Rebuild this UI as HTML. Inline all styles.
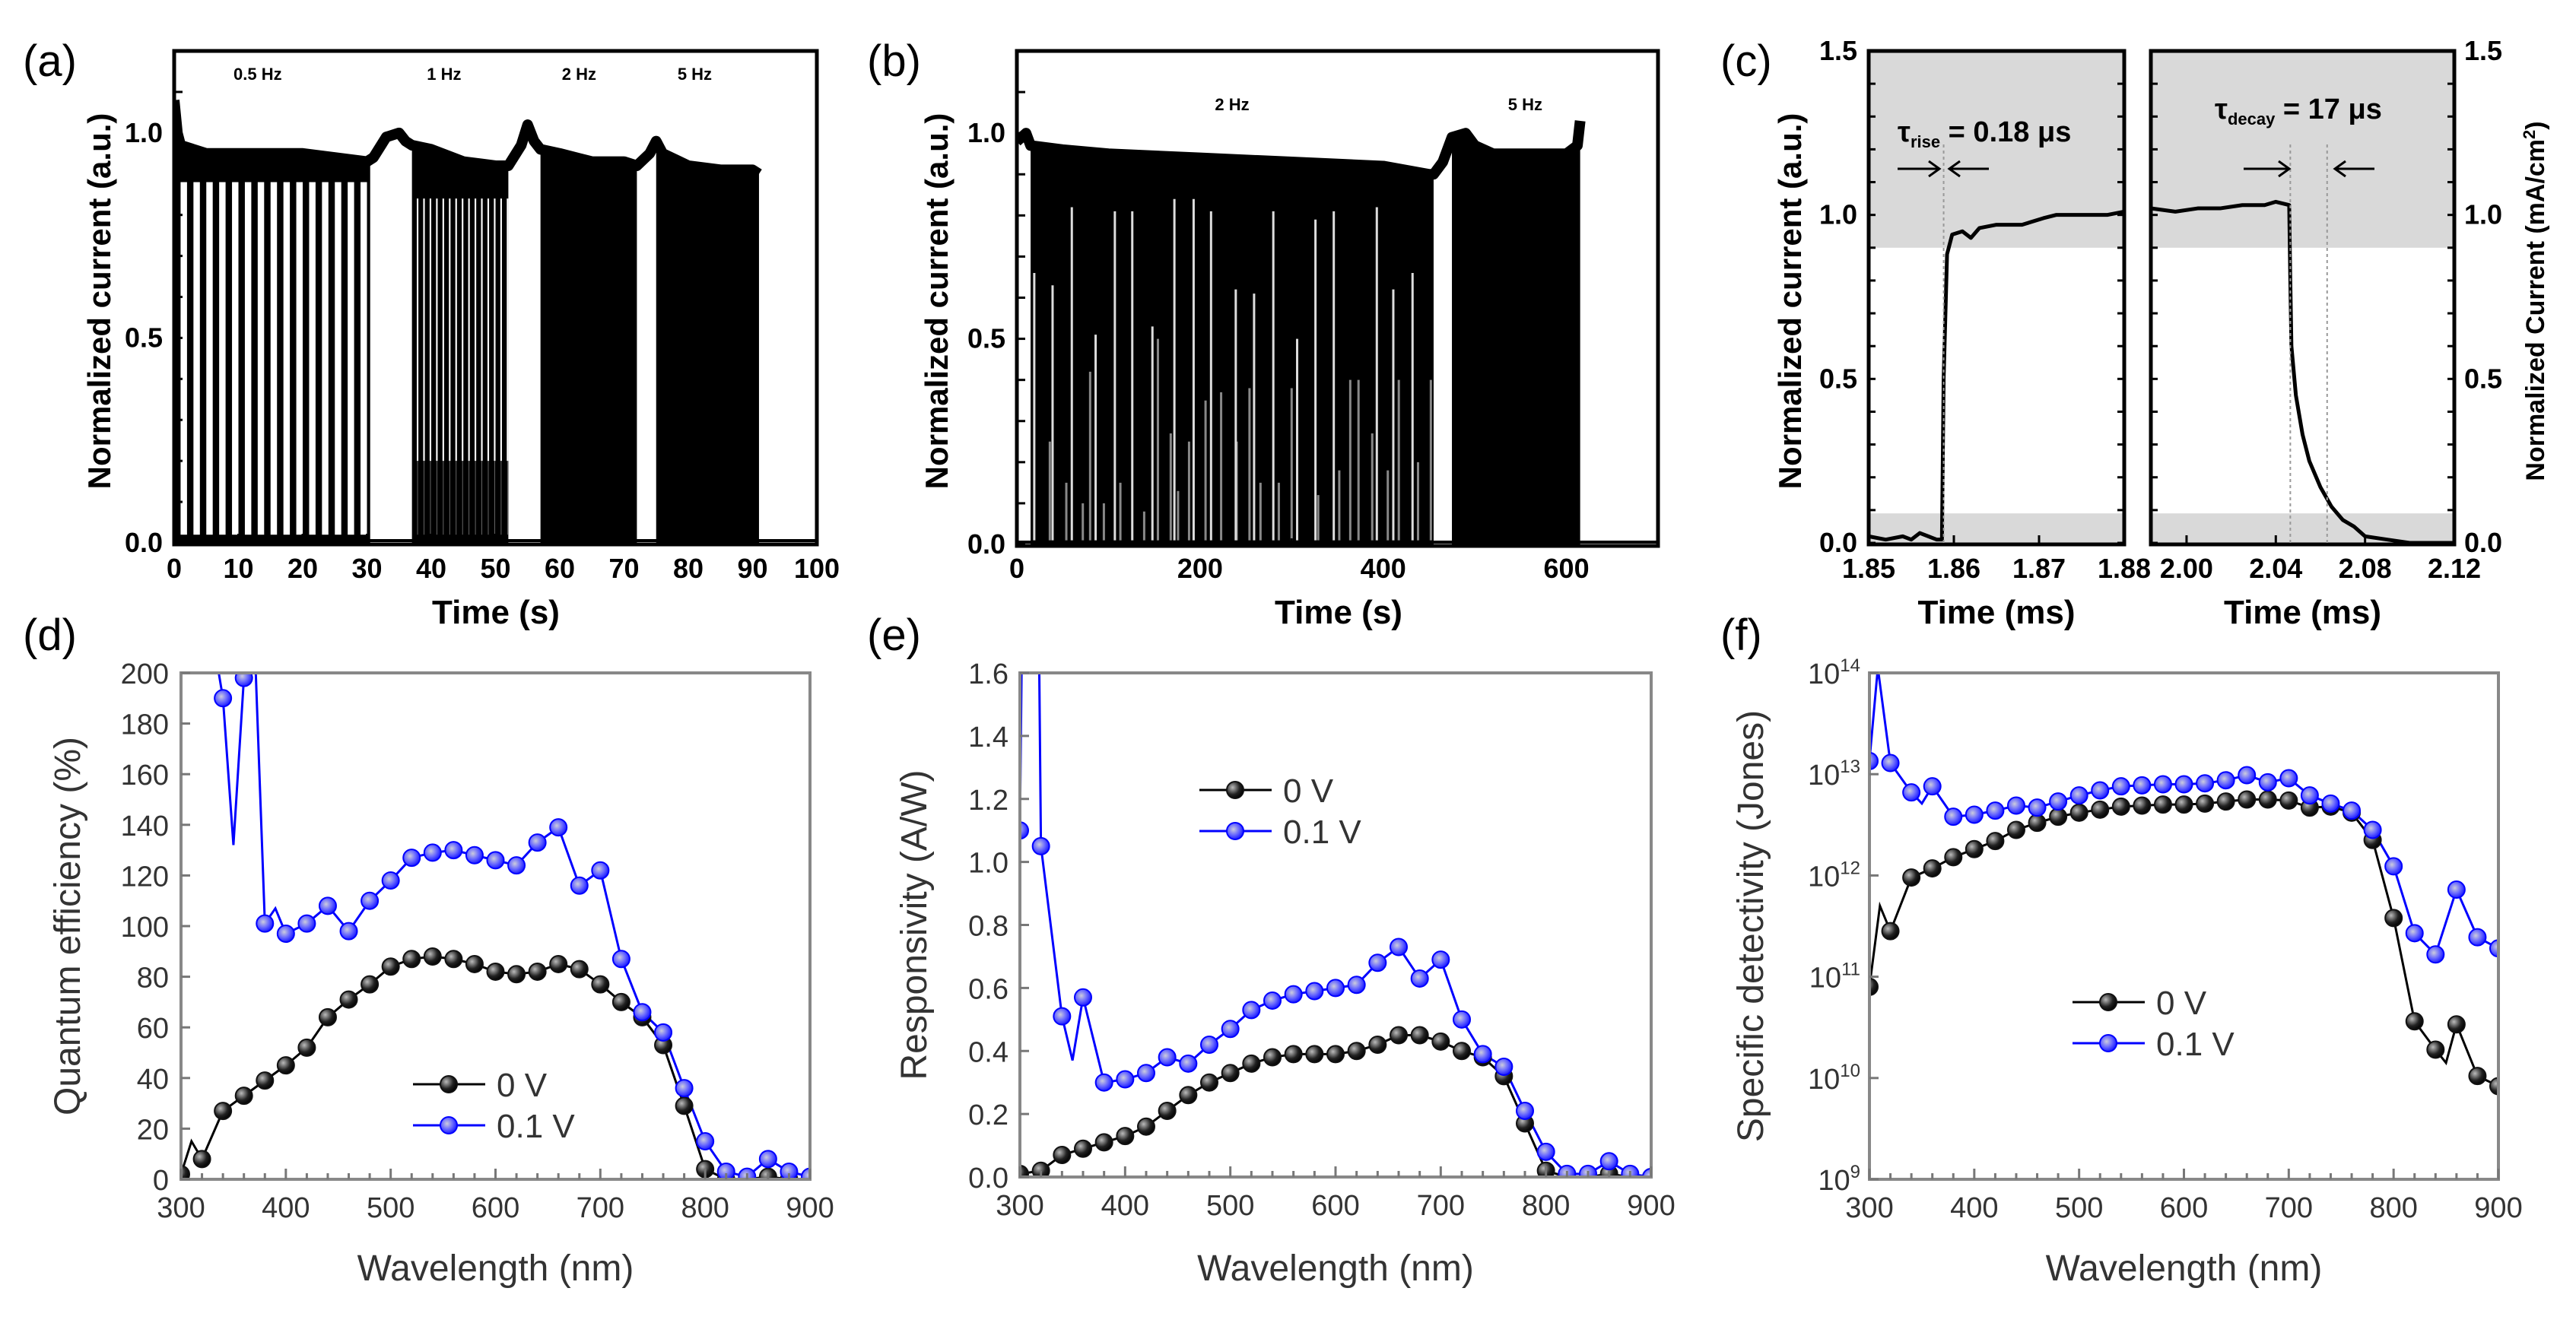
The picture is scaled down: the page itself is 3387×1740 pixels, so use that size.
<!DOCTYPE html>
<html><head><meta charset="utf-8"><style>
html,body{margin:0;padding:0;background:#fff;}
svg{display:block;}
.b{font-family:"Liberation Sans Narrow","Liberation Sans",sans-serif;font-weight:bold;}
.r{font-family:"Liberation Sans",sans-serif;}
</style></head><body>
<svg id="chart" width="3387" height="1740" viewBox="0 0 3387 1740" xmlns="http://www.w3.org/2000/svg">
<defs>
<radialGradient id="gBlack" cx="0.35" cy="0.35" r="0.7"><stop offset="0" stop-color="#bbb"/><stop offset="0.6" stop-color="#222"/><stop offset="1" stop-color="#000"/></radialGradient>
<radialGradient id="gBlue" cx="0.4" cy="0.4" r="0.7"><stop offset="0" stop-color="#ccd"/><stop offset="0.5" stop-color="#66f"/><stop offset="1" stop-color="#00f"/></radialGradient>
</defs>
</svg>
<script>
// ---------- DATA ----------
// (a)
const aSegStart=[0,37,57,75];
const aSegEnd=[30.5,52,72,91];
const aSegFreq=[0.5,1,2,5];
const aGapFrac=[0.5,0.25,0,0];
const aGapBottom=[0.02,0.2,0,0];
const aGapTop=[0.88,0.84,0,0];
const aTopT=[0,0.5,1,5,10,15,20,25,30,31,33,35,36,37,40,45,50,52,54,55,56,57,60,65,70,72,74,75,76,80,85,90,91];
const aTopV=[1.08,1.0,0.97,0.95,0.95,0.95,0.95,0.94,0.93,0.94,0.99,1.0,0.98,0.97,0.96,0.93,0.92,0.92,0.97,1.02,0.98,0.96,0.95,0.93,0.93,0.92,0.95,0.98,0.95,0.92,0.91,0.91,0.9];
const aLabels=["0.5 Hz","1 Hz","2 Hz","5 Hz"];
const aLabelT=[13,42,63,81];
// (b)
const bSegStart=[15,475];
const bSegEnd=[455,615];
const bTopT=[0,10,15,50,100,200,300,400,450,455,465,475,490,500,520,600,612,615];
const bTopV=[0.98,1.0,0.97,0.96,0.95,0.94,0.93,0.92,0.9,0.9,0.93,0.99,1.0,0.97,0.95,0.95,0.97,1.03];
const bWhiteT=[60,107,126,172,193,212,280,326,346,393,39,86,148,239,259,306,411,432,19];
const bWhiteV=[0.82,0.81,0.81,0.84,0.84,0.81,0.81,0.79,0.81,0.82,0.63,0.51,0.53,0.62,0.61,0.5,0.62,0.66,0.66];
const bGrayT=[36,54,72,80,95,113,139,154,168,176,188,206,223,240,254,266,286,300,329,352,364,373,388,405,417,438,452];
const bGrayV=[0.25,0.15,0.1,0.42,0.1,0.15,0.08,0.5,0.27,0.13,0.25,0.35,0.37,0.25,0.38,0.15,0.15,0.38,0.12,0.18,0.4,0.4,0.27,0.18,0.4,0.2,0.4];
const bLabels=["2 Hz","5 Hz"];
const bLabelT=[235,555];
// (c)
const cRiseT=[1.85,1.852,1.854,1.855,1.856,1.857,1.858,1.8586,1.8588,1.8592,1.8598,1.861,1.862,1.863,1.865,1.868,1.8705,1.872,1.875,1.878,1.88];
const cRiseV=[0.02,0.01,0.02,0.01,0.03,0.02,0.01,0.01,0.5,0.88,0.94,0.95,0.93,0.96,0.97,0.97,0.99,1.0,1.0,1.0,1.01];
const cDecayT=[1.984,1.995,2.005,2.015,2.025,2.035,2.04,2.046,2.0465,2.047,2.049,2.052,2.055,2.06,2.065,2.07,2.075,2.08,2.09,2.1,2.12];
const cDecayV=[1.02,1.01,1.02,1.02,1.03,1.03,1.04,1.03,0.8,0.6,0.45,0.33,0.25,0.17,0.11,0.07,0.05,0.02,0.01,0.0,0.0];
// (d)
const dWl0=[300,310,320,340,360,380,400,420,440,460,480,500,520,540,560,580,600,620,640,660,680,700,720,740,760,780,800,820,840,860,880,900];
const dQE0=[2,15,8,27,33,39,45,52,64,71,77,84,87,88,87,85,82,81,82,85,83,77,70,64,53,29,4,0,0,1,0,0];
const dWl1=[330,340,350,360,370,380,390,400,420,440,460,480,500,520,540,560,580,600,620,640,660,680,700,720,740,760,780,800,820,840,860,880,900];
const dQE1=[215,190,132,198,215,101,107,97,101,108,98,110,118,127,129,130,128,126,124,133,139,116,122,87,66,58,36,15,3,1,8,3,1];
// (e)
const eWl0=[300,320,340,360,380,400,420,440,460,480,500,520,540,560,580,600,620,640,660,680,700,720,740,760,780,800,820,840,860,880,900];
const eR0=[0.01,0.02,0.07,0.09,0.11,0.13,0.16,0.21,0.26,0.30,0.33,0.36,0.38,0.39,0.39,0.39,0.40,0.42,0.45,0.45,0.43,0.40,0.38,0.32,0.17,0.02,0,0,0.01,0,0];
const eWl1=[300,302,318,320,340,350,360,380,400,420,440,460,480,500,520,540,560,580,600,620,640,660,680,700,720,740,760,780,800,820,840,860,880,900];
const eR1=[1.1,1.75,1.75,1.05,0.51,0.37,0.57,0.30,0.31,0.33,0.38,0.36,0.42,0.47,0.53,0.56,0.58,0.59,0.60,0.61,0.68,0.73,0.63,0.69,0.50,0.39,0.35,0.21,0.08,0.01,0.01,0.05,0.01,0];
// (f) log10 of detectivity
const fWl0=[300,310,320,340,360,380,400,420,440,460,480,500,520,540,560,580,600,620,640,660,680,700,720,740,760,780,800,820,840,850,860,880,900];
const fD0=[10.9,11.7,11.45,11.98,12.07,12.18,12.26,12.34,12.45,12.52,12.58,12.62,12.65,12.68,12.69,12.70,12.70,12.71,12.73,12.75,12.75,12.74,12.67,12.68,12.62,12.35,11.58,10.56,10.28,10.15,10.53,10.02,9.92];
const fWl1=[300,308,320,340,350,360,380,400,420,440,460,480,500,520,540,560,580,600,620,640,660,680,700,720,740,760,780,800,820,840,860,880,900];
const fD1=[13.13,14.05,13.11,12.82,12.71,12.88,12.58,12.60,12.64,12.69,12.67,12.73,12.79,12.84,12.88,12.89,12.90,12.90,12.91,12.94,12.99,12.92,12.96,12.79,12.71,12.64,12.45,12.09,11.43,11.22,11.86,11.39,11.28];
const wlTicks=[300,400,500,600,700,800,900];
const dTicks=[0,20,40,60,80,100,120,140,160,180,200];
const eTicks=[0.0,0.2,0.4,0.6,0.8,1.0,1.2,1.4,1.6];
const fTicks=[9,10,11,12,13,14];

// ---------- HELPERS ----------
const NS="http://www.w3.org/2000/svg";
const svg=document.getElementById('chart');
function mk(tag,attrs,parent){const e=document.createElementNS(NS,tag);for(const k in attrs)e.setAttribute(k,attrs[k]);(parent||svg).appendChild(e);return e;}
function lin(d0,d1,p0,p1){return v=>p0+(v-d0)/(d1-d0)*(p1-p0);}
function interp(T,V,t){if(t<=T[0])return V[0];for(let i=1;i<T.length;i++){if(t<=T[i]){const f=(t-T[i-1])/(T[i]-T[i-1]);return V[i-1]+f*(V[i]-V[i-1]);}}return V[V.length-1];}
function envPoly(T,V,s,e,X,Y){const pts=[X(s)+','+Y(0),X(s)+','+Y(interp(T,V,s))];T.forEach((t,i)=>{if(t>s&&t<e)pts.push(X(t)+','+Y(V[i]));});pts.push(X(e)+','+Y(interp(T,V,e)));pts.push(X(e)+','+Y(0));return pts.join(' ');}
function text(str,x,y,cls,size,anchor,parent,fill){const t=mk('text',{x:x,y:y,class:cls,'font-size':size,'text-anchor':anchor||'middle',fill:fill||'#000'},parent);t.textContent=str;return t;}
let clipId=0;
function clip(x0,y0,x1,y1){const id='c'+(clipId++);const cp=mk('clipPath',{id:id});mk('rect',{x:x0,y:y0,width:x1-x0,height:y1-y0},cp);return 'url(#'+id+')';}
function frame(x0,y0,x1,y1,color,w,name){const r=mk('rect',{x:x0,y:y0,width:x1-x0,height:y1-y0,fill:'none',stroke:color,'stroke-width':w});

}

// ---------- PANEL A ----------
(function(){
const X=lin(0,100,229,1074),Y=lin(0,1.2,714,67);
const g=mk('g',{'clip-path':clip(229,67,1074,716)});


for(let i=0;i<aSegStart.length;i++){
  const r=mk('polygon',{points:envPoly(aTopT,aTopV,aSegStart[i],aSegEnd[i],X,Y),fill:'#000'},g);
  
  
  if(aGapFrac[i]>0){const p=1/aSegFreq[i];
    for(let t=aSegStart[i];t+p<=aSegEnd[i]+0.01;t+=p){
      const gx=X(t+p*(1-aGapFrac[i])),gw=X(t+p)-gx;
      const w=mk('rect',{x:gx,y:Y(aGapTop[i]),width:gw,height:Y(aGapBottom[i])-Y(aGapTop[i]),fill:'#fff'},g);
      
      
      if(aGapBottom[i]>0.05){const gg=mk('rect',{x:gx+gw*0.3,y:Y(aGapBottom[i]),width:gw*0.4,height:Y(0.02)-Y(aGapBottom[i]),fill:'#777'},g);
        
        }
    }}
}
const pl=mk('polyline',{points:aTopT.map((t,i)=>X(t)+','+Y(aTopV[i])).join(' '),fill:'none',stroke:'#000','stroke-width':14,'stroke-linejoin':'round'},g);


const bl=mk('line',{x1:X(0),x2:X(100),y1:Y(0)-3,y2:Y(0)-3,stroke:'#000','stroke-width':4},g);


frame(229,67,1074,716,'#000',5,'panel-a-frame');
for(let v=0;v<=100;v+=10){const l=mk('line',{x1:X(v),x2:X(v),y1:716,y2:702,stroke:'#000','stroke-width':3});
  
  
  const t=text(String(v),X(v),760,'b',36);
  
  }
[0,0.5,1.0].forEach(v=>{const t=text(v.toFixed(1),214,Y(v)+12,'b',36,'end');
  
  });
for(let v=0;v<=1.2;v+=0.1){const l=mk('line',{x1:229,x2:240,y1:Y(v),y2:Y(v),stroke:'#000','stroke-width':3});
  
  }
aLabels.forEach((s,i)=>{const t=text(s,X(aLabelT[i]),105,'b',22);
  
  });
const xt=text('Time (s)',652,820,'b',44);


const yt=text('Normalized current (a.u.)',0,0,'b',42);
yt.setAttribute('transform','translate(145,396) rotate(-90)');


})();

// ---------- PANEL B ----------
(function(){
const X=lin(0,700,1337,2180),Y=lin(0,1.2,716,67);
const g=mk('g',{'clip-path':clip(1337,67,2180,718)});


for(let i=0;i<bSegStart.length;i++){
  const r=mk('polygon',{points:envPoly(bTopT,bTopV,bSegStart[i],bSegEnd[i],X,Y),fill:'#000'},g);
  
  }
bGrayT.forEach((t,i)=>{const l=mk('line',{x1:X(t),x2:X(t),y1:Y(0.01),y2:Y(bGrayV[i]),stroke:'#888','stroke-width':3},g);
  
  });
bWhiteT.forEach((t,i)=>{const l=mk('line',{x1:X(t),x2:X(t),y1:Y(0.01),y2:Y(bWhiteV[i]),stroke:'#ddd','stroke-width':3},g);
  
  });
const pl=mk('polyline',{points:bTopT.map((t,i)=>X(t)+','+Y(bTopV[i])).join(' '),fill:'none',stroke:'#000','stroke-width':14,'stroke-linejoin':'round'},g);


const bl=mk('line',{x1:X(0),x2:X(700),y1:Y(0)-3,y2:Y(0)-3,stroke:'#000','stroke-width':4},g);


frame(1337,67,2180,718,'#000',5,'panel-b-frame');
for(let v=0;v<=700;v+=100){const l=mk('line',{x1:X(v),x2:X(v),y1:718,y2:v%200==0?702:708,stroke:'#000','stroke-width':3});
  
  
  if(v%200==0&&v<=600){const t=text(String(v),X(v),760,'b',36);
  
  }}
[0,0.5,1.0].forEach(v=>{const t=text(v.toFixed(1),1322,Y(v)+12,'b',36,'end');
  
  });
for(let v=0;v<=1.2;v+=0.1){const l=mk('line',{x1:1337,x2:1348,y1:Y(v),y2:Y(v),stroke:'#000','stroke-width':3});
  
  }
bLabels.forEach((s,i)=>{const t=text(s,X(bLabelT[i]),145,'b',22);
  
  });
const xt=text('Time (s)',1760,820,'b',44);


const yt=text('Normalized current (a.u.)',0,0,'b',42);
yt.setAttribute('transform','translate(1246,396) rotate(-90)');


})();

// ---------- PANEL C ----------
(function(){
const Y=lin(0,1.5,714,67);
const subs=[{x0:2457,x1:2793,d0:1.85,d1:1.88,T:cRiseT,V:cRiseV,ticks:[1.85,1.86,1.87,1.88],fmt:2,name:'rise'},
            {x0:2828,x1:3227,d0:1.984,d1:2.12,T:cDecayT,V:cDecayV,ticks:[2.00,2.04,2.08,2.12],fmt:2,name:'decay'}];
subs.forEach(s=>{
  const X=lin(s.d0,s.d1,s.x0,s.x1);
  const b1=mk('rect',{x:s.x0,y:67,width:s.x1-s.x0,height:Y(0.9)-67,fill:'#d9d9d9'});
  
  
  const b2=mk('rect',{x:s.x0,y:Y(0.09),width:s.x1-s.x0,height:716-Y(0.09),fill:'#d9d9d9'});
  
  
  const pl=mk('polyline',{points:s.T.map((t,i)=>X(t)+','+Y(s.V[i])).join(' '),fill:'none',stroke:'#000','stroke-width':5,'stroke-linejoin':'round'});
  
  
  frame(s.x0,67,s.x1,716,'#000',5,'panel-c-'+s.name+'-frame');
  s.ticks.forEach(v=>{const l=mk('line',{x1:X(v),x2:X(v),y1:716,y2:704,stroke:'#000','stroke-width':3});
    
    
    const t=text(v.toFixed(s.fmt),X(v),760,'b',36);
    
    });
  for(let v=0;v<=1.5001;v+=0.1){[s.x0,s.x1].forEach((xx,k)=>{const l=mk('line',{x1:xx,x2:xx+(k?-9:9),y1:Y(v),y2:Y(v),stroke:'#000','stroke-width':3});
    
    });}
  const xt=text('Time (ms)',(s.x0+s.x1)/2,820,'b',44);
  
  
});
[0,0.5,1.0,1.5].forEach(v=>{
  const t=text(v.toFixed(1),2442,Y(v)+12,'b',36,'end');
  
  
  const t2=text(v.toFixed(1),3240,Y(v)+12,'b',36,'start');
  
  });
const XL=lin(1.85,1.88,2457,2793),XR=lin(1.984,2.12,2828,3227);
[[XL(1.8588),190,716],[XR(2.0465),190,716],[XR(2.063),190,716]].forEach(a=>{const l=mk('line',{x1:a[0],x2:a[0],y1:a[1],y2:a[2],stroke:'#999','stroke-width':2,'stroke-dasharray':'4 4'});
  
  });
function arrow(x1,x2,y,name){const l=mk('line',{x1:x1,x2:x2,y1:y,y2:y,stroke:'#000','stroke-width':3});
  
  
  const d=x2>x1?1:-1;const h=mk('polyline',{points:(x2-14*d)+','+(y-10)+' '+x2+','+y+' '+(x2-14*d)+','+(y+10),fill:'none',stroke:'#000','stroke-width':3});
  
  }
arrow(2495,2550,222,'rise-arrow-left');arrow(2615,2563,222,'rise-arrow-right');
arrow(2950,3010,222,'decay-arrow-left');arrow(3122,3070,222,'decay-arrow-right');
const t1=mk('text',{x:2495,y:186,class:'b','font-size':38});


t1.innerHTML='τ<tspan font-size="22" dy="8">rise</tspan><tspan dy="-8"> = 0.18 μs</tspan>';
const t2=mk('text',{x:2912,y:156,class:'b','font-size':38});


t2.innerHTML='τ<tspan font-size="22" dy="8">decay</tspan><tspan dy="-8"> = 17 μs</tspan>';
const yt=text('Normalized current (a.u.)',0,0,'b',42);
yt.setAttribute('transform','translate(2368,396) rotate(-90)');


const yt2=mk('text',{class:'b','font-size':34,'text-anchor':'middle',transform:'translate(3345,396) rotate(-90)'});
yt2.innerHTML='Normalized Current (mA/cm<tspan font-size="22" dy="-12">2</tspan><tspan dy="12">)</tspan>';


})();

// ---------- SPECTRAL PANELS ----------
function spectral(cfg){
  const X=lin(300,900,cfg.x0,cfg.x1),Y=cfg.Y;
  const cp=clip(cfg.x0,cfg.y0,cfg.x1,cfg.y1);
  const g=mk('g',{'clip-path':cp});
  
  
  const series=[{W:cfg.w0,V:cfg.v0,col:'#000',grad:'url(#gBlack)',sc:'#111',name:'0v'},{W:cfg.w1,V:cfg.v1,col:'#0000ff',grad:'url(#gBlue)',sc:'#00f',name:'0.1v'}];
  series.forEach(s=>{
    const pl=mk('polyline',{points:s.W.map((w,i)=>X(w)+','+Y(s.V[i])).join(' '),fill:'none',stroke:s.col,'stroke-width':3},g);
    
    
  });
  series.forEach(s=>{
    s.W.forEach((w,i)=>{if(w%20!==0)return;const yy=Y(s.V[i]);if(yy<cfg.y0-5)return;
      const c=mk('circle',{cx:X(w),cy:yy,r:11,fill:s.grad,stroke:s.sc,'stroke-width':2},g);
      
      });
  });
  frame(cfg.x0,cfg.y0,cfg.x1,cfg.y1,'#888',4,cfg.name+'-frame');
  for(let v=300;v<=900;v+=20){const l=mk('line',{x1:X(v),x2:X(v),y1:cfg.y1,y2:cfg.y1-(v%100==0?14:8),stroke:'#777','stroke-width':3});
    
    }
  wlTicks.forEach(v=>{const t=text(String(v),X(v),cfg.y1+50,'r',38,'middle',null,'#333');
    
    });
  cfg.ticks();
  const xt=text('Wavelength (nm)',(cfg.x0+cfg.x1)/2,1684,'r',48,'middle',null,'#333');
  
  
  const yt=text(cfg.ytitle,0,0,'r',48,'middle',null,'#333');
  yt.setAttribute('transform','translate('+cfg.ytx+','+((cfg.y0+cfg.y1)/2)+') rotate(-90)');
  
  
  [[0,'0 V','#000','url(#gBlack)','#111'],[1,'0.1 V','#0000ff','url(#gBlue)','#00f']].forEach(e=>{
    const y=cfg.ly+e[0]*54;
    const l=mk('line',{x1:cfg.lx,x2:cfg.lx+95,y1:y,y2:y,stroke:e[2],'stroke-width':3});
    
    
    const c=mk('circle',{cx:cfg.lx+47,cy:y,r:11,fill:e[3],stroke:e[4],'stroke-width':2});
    
    
    const t=text(e[1],cfg.lx+110,y+16,'r',44,'start',null,'#333');
    
    
  });
}
(function(){const Y=lin(0,200,1551,885);
spectral({name:'panel-d',x0:238,x1:1065,y0:885,y1:1551,Y:Y,w0:dWl0,v0:dQE0,w1:dWl1,v1:dQE1,ytitle:'Quantum efficiency (%)',ytx:105,lx:543,ly:1426,
 ticks:()=>{dTicks.forEach(v=>{const t=text(String(v),222,Y(v)+14,'r',38,'end',null,'#333');
   
   
   const l=mk('line',{x1:238,x2:250,y1:Y(v),y2:Y(v),stroke:'#777','stroke-width':3});
   
   });}});
})();
(function(){const Y=lin(0,1.6,1548,885);
spectral({name:'panel-e',x0:1341,x1:2171,y0:885,y1:1548,Y:Y,w0:eWl0,v0:eR0,w1:eWl1,v1:eR1,ytitle:'Responsivity (A/W)',ytx:1218,lx:1577,ly:1039,
 ticks:()=>{eTicks.forEach(v=>{const t=text(v.toFixed(1),1326,Y(v)+14,'r',38,'end',null,'#333');
   
   
   const l=mk('line',{x1:1341,x2:1353,y1:Y(v),y2:Y(v),stroke:'#777','stroke-width':3});
   
   });}});
})();
(function(){const Y=lin(9,14,1551,885);
spectral({name:'panel-f',x0:2458,x1:3285,y0:885,y1:1551,Y:Y,w0:fWl0,v0:fD0,w1:fWl1,v1:fD1,ytitle:'Specific detectivity (Jones)',ytx:2318,lx:2725,ly:1318,
 ticks:()=>{fTicks.forEach(v=>{const t=mk('text',{x:2446,y:Y(v)+14,class:'r','font-size':38,'text-anchor':'end',fill:'#333'});
   t.innerHTML='10<tspan font-size="24" dy="-16">'+v+'</tspan>';
   
   
   const l=mk('line',{x1:2458,x2:2470,y1:Y(v),y2:Y(v),stroke:'#777','stroke-width':3});
   
   });}});
})();

[['(a)',30,100],['(b)',1140,100],['(c)',2262,100],['(d)',30,855],['(e)',1140,855],['(f)',2262,855]].forEach(p=>{
  const t=text(p[0],p[1],p[2],'r',58,'start');
  
  });
</script>
</body></html>
